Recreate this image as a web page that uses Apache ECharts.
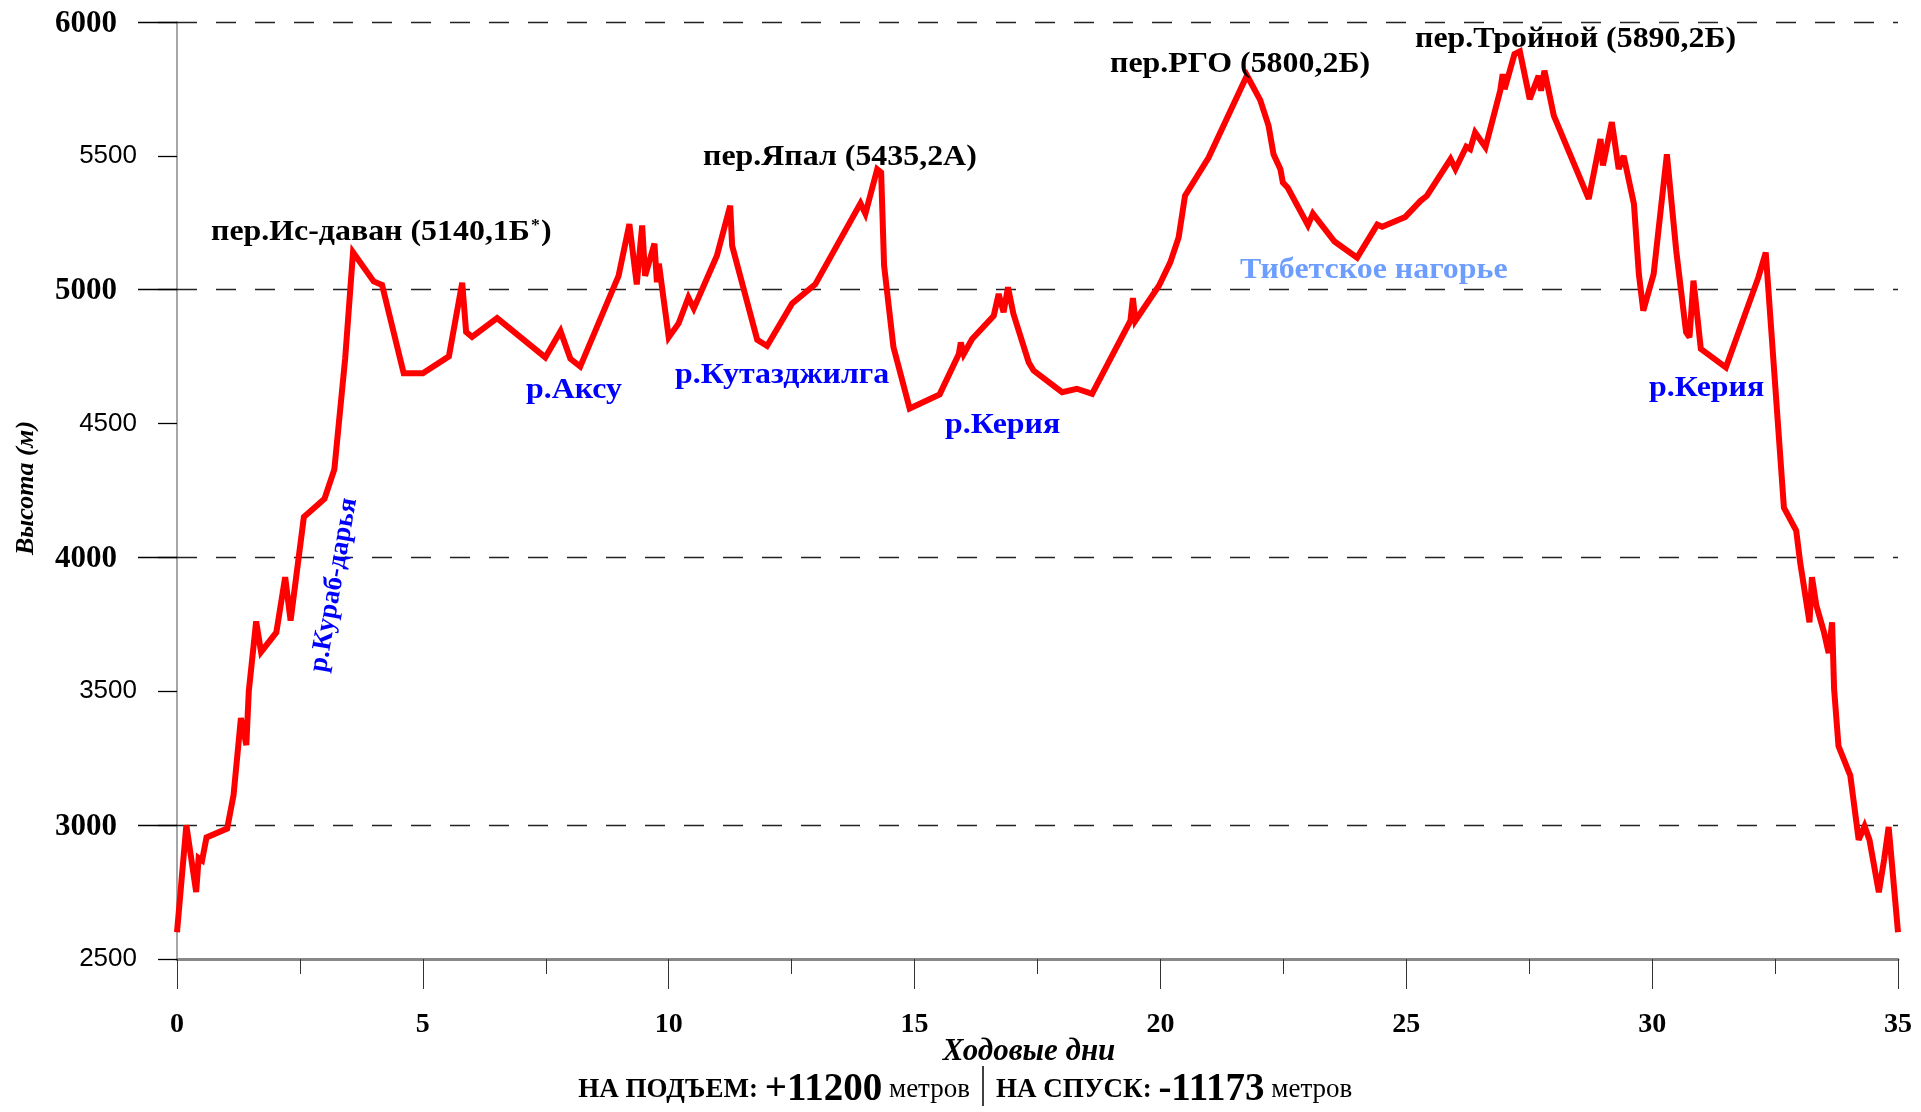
<!DOCTYPE html>
<html>
<head>
<meta charset="utf-8">
<script src="https://cdn.jsdelivr.net/npm/echarts@6/dist/echarts.min.js"></script>
<style>html,body{margin:0;padding:0;background:#fff;}#c{width:1921px;height:1112px;}</style>
</head>
<body>
<div id="c"></div>
<script>
// Ходовые дни (x) and высота, м (y)
const days = [0,0.19,0.39,0.44,0.51,0.60,1.02,1.15,1.30,1.41,1.46,1.61,1.71,2.02,2.20,2.31,2.58,3.00,3.20,3.42,3.58,4.00,4.17,4.61,5.00,5.53,5.80,5.88,6.00,6.51,7.49,7.80,8.00,8.20,8.98,9.20,9.35,9.46,9.52,9.71,9.76,9.80,10.00,10.20,10.40,10.51,10.98,11.25,11.29,11.80,12.00,12.51,12.98,13.90,14.00,14.24,14.32,14.38,14.57,14.90,15.51,15.90,15.94,16.00,16.17,16.61,16.71,16.81,16.90,17.01,17.32,17.42,18.00,18.30,18.61,18.98,19.39,19.44,19.49,19.97,20.20,20.37,20.50,20.98,21.76,22.03,22.20,22.30,22.44,22.49,22.59,23.00,23.10,23.54,24.00,24.41,24.51,24.98,25.29,25.42,25.90,26.00,26.22,26.30,26.40,26.61,26.91,26.96,27.00,27.20,27.31,27.51,27.69,27.74,27.81,28.00,28.71,28.95,29.00,29.18,29.32,29.42,29.63,29.73,29.82,30.03,30.30,30.49,30.69,30.76,30.84,30.99,31.50,32.16,32.31,32.68,32.93,33.01,33.20,33.25,33.34,33.49,33.59,33.66,33.70,33.79,34.03,34.20,34.32,34.42,34.61,34.72,34.81,35.00];
const elevation = [2600,3000,2750,2877,2868,2954,2987,3112,3400,3299,3500,3761,3647,3720,3926,3764,4151,4219,4329,4743,5140,5031,5018,4688,4688,4751,5026,4842,4824,4894,4747,4845,4742,4713,5052,5245,5020,5240,5052,5172,5028,5097,4822,4874,4971,4930,5127,5314,5164,4813,4790,4949,5020,5323,5284,5450,5438,5090,4786,4556,4609,4760,4803,4760,4816,4903,4984,4916,5009,4910,4729,4698,4617,4630,4611,4741,4884,4969,4884,5015,5102,5195,5351,5494,5800,5708,5612,5506,5450,5400,5381,5241,5284,5180,5120,5243,5235,5272,5332,5351,5488,5451,5534,5525,5587,5532,5743,5805,5749,5880,5890,5712,5799,5743,5818,5650,5339,5563,5464,5626,5451,5500,5320,5058,4922,5058,5506,5145,4841,4822,5034,4779,4710,5046,5139,4186,4100,3982,3758,3926,3820,3724,3643,3758,3510,3295,3185,2945,2996,2945,2749,2874,2993,2600];
const majorY = [3000,4000,5000,6000];
const yMin = 2500, yMax = 6000, yStep = 500;
const xMin = 0, xMax = 35, xMinorStep = 2.5, xMajorStep = 5;

const SERIF = '"Liberation Serif","Times New Roman",serif';
const SANS = '"Liberation Sans",Arial,sans-serif';

const chart = echarts.init(document.getElementById('c'));
const pts = days.map((d,i)=>[d, elevation[i]]);

const LBL = 'bold 29px ' + SERIF;
const SX = 1.1;
function label(text, x, y, fill) {
  return {type:'text', x:x, y:y, scaleX:SX, z:10,
    style:{text:text, font:LBL, fill:fill, align:'left', verticalAlign:'middle'}};
}

const option = {
  animation: false,
  backgroundColor: '#fff',
  grid: {left: 177, right: 23, top: 22, bottom: 153, containLabel: false, outerBoundsMode: 'none'},
  xAxis: [
    {type:'value', min:xMin, max:xMax, interval:xMinorStep,
     axisLine:{show:true, onZero:false, lineStyle:{color:'#888', width:3}},
     axisTick:{show:true, length:15, lineStyle:{color:'#333', width:1}},
     axisLabel:{show:false}, splitLine:{show:false}},
    {type:'value', min:xMin, max:xMax, interval:xMajorStep, position:'bottom',
     axisLine:{show:false},
     axisTick:{show:true, length:30, lineStyle:{color:'#333', width:1}},
     axisLabel:{show:true, margin:52, showMinLabel:true, showMaxLabel:true,
       fontFamily:SERIF, fontWeight:'bold', fontSize:28, color:'#000'},
     splitLine:{show:false}}
  ],
  yAxis: [
    {type:'value', min:yMin, max:yMax, interval:yStep,
     axisLine:{show:true, onZero:false, lineStyle:{color:'#888', width:1.5}},
     axisTick:{show:true, length:19, lineStyle:{color:'#000', width:1.3}},
     splitLine:{show:false},
     axisLabel:{show:true, margin:40, showMinLabel:true, showMaxLabel:true,
       formatter: v => (majorY.indexOf(v) >= 0 ? '{b|' + v + '}' : '{r|' + v + '}'),
       rich:{
         b:{fontFamily:SERIF, fontWeight:'bold', fontSize:31, color:'#000', padding:[3,20,0,0]},
         r:{fontFamily:SANS, fontSize:26, color:'#000'}
       }}},
    {type:'value', min:yMin, max:yMax, position:'left',
     axisLine:{show:false},
     axisTick:{show:true, length:39, customValues:majorY, lineStyle:{color:'#000', width:1.3}},
     axisLabel:{show:false}, splitLine:{show:false}}
  ],
  series: [{
    type:'line', data:pts, xAxisIndex:0, yAxisIndex:0,
    showSymbol:false, symbol:'none', smooth:false,
    lineStyle:{color:'#ff0000', width:6, join:'miter', miterLimit:3},
    silent:true, z:5,
    markLine:{
      silent:true, symbol:['none','none'], label:{show:false},
      lineStyle:{color:'#222', width:1.3, type:[20,19]},
      emphasis:{disabled:true},
      data: majorY.map(v => ({yAxis:v}))
    }
  }],
  graphic: [
    {type:'text', x:211, y:233, scaleX:SX, z:10, style:{
      text:'{m|пер.Ис-даван (5140,1Б}{s|*}{m|)}', align:'left', verticalAlign:'middle',
      rich:{m:{font:LBL, fill:'#000'}, s:{font:'bold 16px '+SERIF, fill:'#000', verticalAlign:'top', padding:[0,1,15,1]}}}},
    label('пер.Япал (5435,2А)', 703, 158, '#000'),
    label('пер.РГО (5800,2Б)', 1110, 65, '#000'),
    label('пер.Тройной (5890,2Б)', 1415, 40, '#000'),
    label('Тибетское нагорье', 1240, 271, '#6d9eff'),
    label('р.Аксу', 526, 391, '#0000ff'),
    label('р.Кутазджилга', 675, 376, '#0000ff'),
    label('р.Керия', 945, 426, '#0000ff'),
    label('р.Керия', 1649, 389, '#0000ff'),
    {type:'text', x:334, y:585, rotation:80*Math.PI/180, z:10, style:{text:'р.Кураб-дарья', font:'bold 27px '+SERIF, fill:'#0000ff', align:'center', verticalAlign:'middle'}},
    {type:'text', x:26, y:488, rotation:Math.PI/2, z:10, style:{text:'Высота (м)', font:'italic bold 26px '+SERIF, fill:'#000', align:'center', verticalAlign:'middle'}},
    {type:'text', x:1029, y:1052, z:10, style:{text:'Ходовые дни', font:'italic bold 31px '+SERIF, fill:'#000', align:'center', verticalAlign:'middle'}},
    {type:'text', x:970, y:1090, z:10, style:{
      text:'{c|НА ПОДЪЕМ: }{n|+11200}{r| метров}', align:'right', verticalAlign:'middle',
      rich:{c:{font:'bold 27px '+SERIF, fill:'#000'}, n:{font:'bold 39px '+SERIF, fill:'#000'}, r:{font:'27px '+SERIF, fill:'#000'}}}},
    {type:'line', z:10, shape:{x1:983, y1:1066, x2:983, y2:1106}, style:{stroke:'#000', lineWidth:1.5}},
    {type:'text', x:996, y:1090, z:10, style:{
      text:'{c|НА СПУСК: }{n|-11173}{r| метров}', align:'left', verticalAlign:'middle',
      rich:{c:{font:'bold 27px '+SERIF, fill:'#000'}, n:{font:'bold 39px '+SERIF, fill:'#000'}, r:{font:'27px '+SERIF, fill:'#000'}}}}
  ]
};
chart.setOption(option);
</script>
</body>
</html>
